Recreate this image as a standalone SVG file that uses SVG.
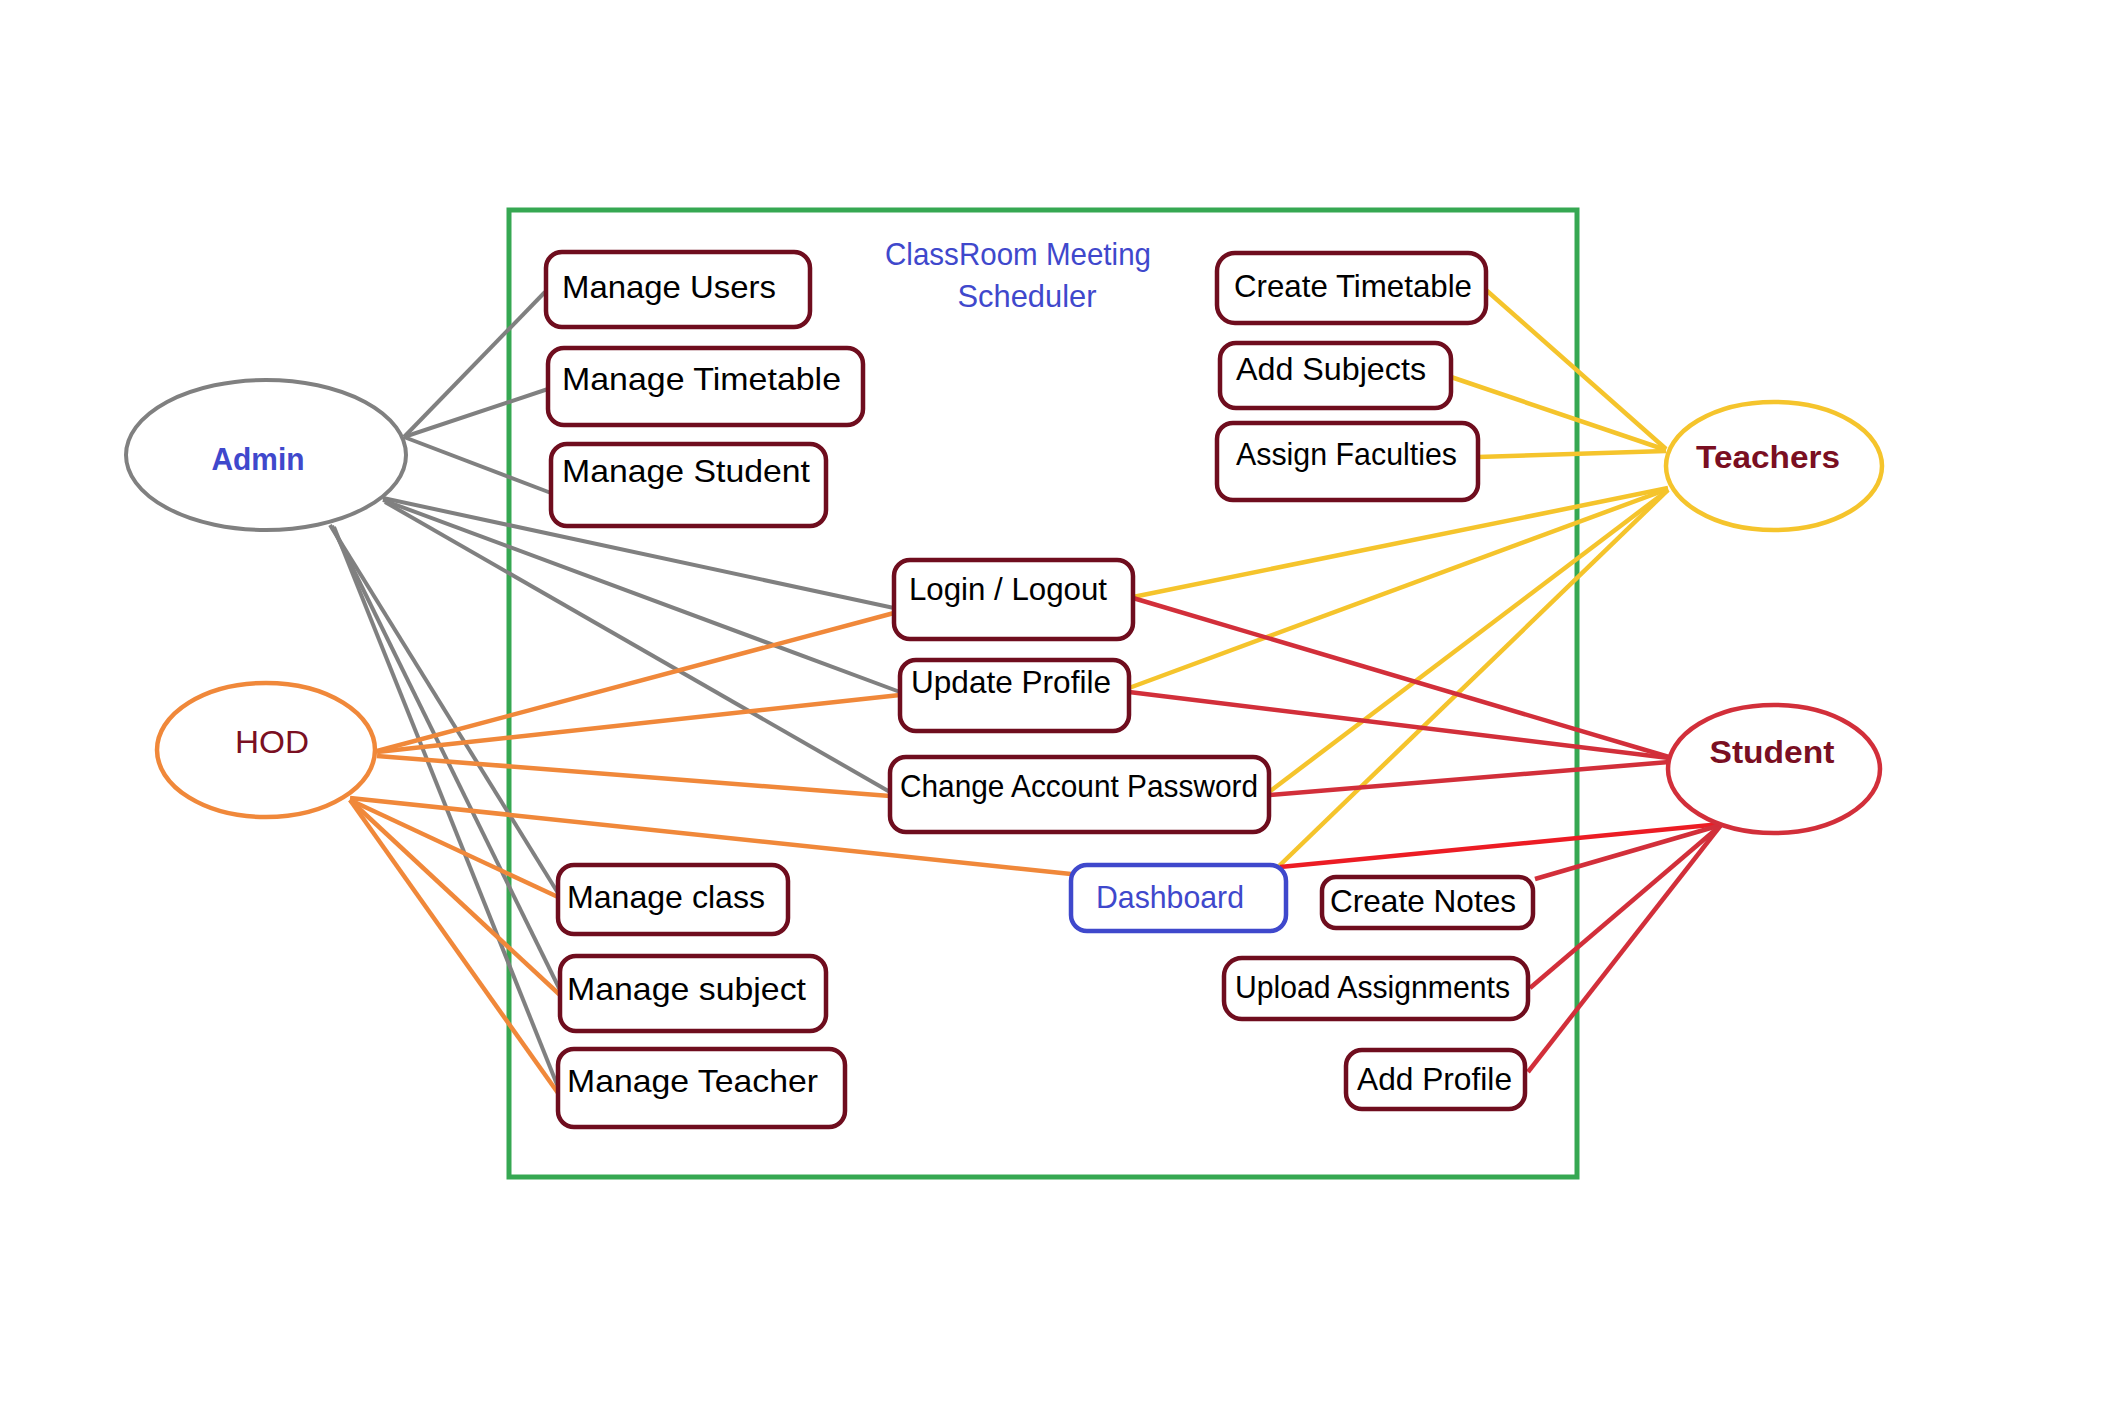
<svg xmlns="http://www.w3.org/2000/svg" width="2128" height="1416" viewBox="0 0 2128 1416">
<style>
.box{fill:#fff;stroke:#6f0d1e;stroke-width:4.5}
.dash{fill:#fff;stroke:#3f48cc;stroke-width:4.5}
.t{font-family:"Liberation Sans",Arial,sans-serif;font-size:32px;fill:#000}
.blue{fill:#3f48cc}
.actor{font-family:"Liberation Sans",Arial,sans-serif;font-size:32px;fill:#7a0f22;text-anchor:middle}
.g{stroke:#808080;stroke-width:4;fill:none}
.o{stroke:#f0883a;stroke-width:4.5;fill:none}
.y{stroke:#f5c42c;stroke-width:4.5;fill:none}
.r{stroke:#d22f3a;stroke-width:4.5;fill:none}
.rb{stroke:#ec1c24;stroke-width:4.5;fill:none}
</style>
<rect width="2128" height="1416" fill="#fff"/>
<rect id="system" x="509" y="210" width="1068" height="967" fill="none" stroke="#36a852" stroke-width="5"/>
<g id="title">
<text class="t blue" x="1018" y="265" font-size="30" text-anchor="middle" textLength="266" lengthAdjust="spacingAndGlyphs">ClassRoom Meeting</text>
<text class="t blue" x="1027" y="307" font-size="30" text-anchor="middle" textLength="139" lengthAdjust="spacingAndGlyphs">Scheduler</text>
</g>
<g id="connectors">
<line class="g" x1="404" y1="437" x2="545" y2="292"/>
<line class="g" x1="404" y1="437" x2="548" y2="389"/>
<line class="g" x1="404" y1="437" x2="551" y2="493"/>
<line class="g" x1="383" y1="498" x2="894" y2="608"/>
<line class="g" x1="383" y1="500" x2="900" y2="692"/>
<line class="g" x1="385" y1="502" x2="890" y2="792"/>
<line class="g" x1="330" y1="525" x2="558" y2="893"/>
<line class="g" x1="332" y1="526" x2="560" y2="990"/>
<line class="g" x1="334" y1="527" x2="558" y2="1087"/>
<line class="o" x1="377" y1="751" x2="894" y2="613"/>
<line class="o" x1="377" y1="752" x2="900" y2="695"/>
<line class="o" x1="377" y1="756" x2="890" y2="796"/>
<line class="o" x1="350" y1="798" x2="1071" y2="874"/>
<line class="o" x1="350" y1="800" x2="558" y2="897"/>
<line class="o" x1="350" y1="800" x2="560" y2="995"/>
<line class="o" x1="350" y1="800" x2="558" y2="1093"/>
<line class="y" x1="1666" y1="449" x2="1486" y2="290"/>
<line class="y" x1="1666" y1="450" x2="1451" y2="377"/>
<line class="y" x1="1666" y1="451" x2="1478" y2="457"/>
<line class="y" x1="1668" y1="488" x2="1133" y2="597"/>
<line class="y" x1="1668" y1="489" x2="1129" y2="688"/>
<line class="y" x1="1668" y1="490" x2="1269" y2="792"/>
<line class="y" x1="1668" y1="490" x2="1278" y2="867"/>
<line class="r" x1="1669" y1="757" x2="1133" y2="598"/>
<line class="r" x1="1669" y1="758" x2="1129" y2="692"/>
<line class="r" x1="1669" y1="762" x2="1269" y2="795"/>
<line class="rb" x1="1721" y1="824" x2="1280" y2="867"/>
<line class="r" x1="1721" y1="825" x2="1535" y2="879"/>
<line class="r" x1="1721" y1="825" x2="1530" y2="988"/>
<line class="r" x1="1721" y1="825" x2="1528" y2="1072"/>
</g>
<g id="admin">
<ellipse cx="266" cy="455" rx="140" ry="75" fill="#fff" stroke="#808080" stroke-width="4"/>
<text class="actor" x="258" y="470" font-weight="bold" fill="#3f48cc" style="fill:#3f48cc" textLength="93" lengthAdjust="spacingAndGlyphs">Admin</text>
</g>
<g id="hod">
<ellipse cx="266" cy="750" rx="109" ry="67" fill="#fff" stroke="#f0883a" stroke-width="4.5"/>
<text class="actor" x="272" y="753" textLength="74" lengthAdjust="spacingAndGlyphs">HOD</text>
</g>
<g id="teachers">
<ellipse cx="1774" cy="466" rx="108" ry="64" fill="#fff" stroke="#f5c42c" stroke-width="4.5"/>
<text class="actor" x="1768" y="468" font-weight="bold" textLength="144" lengthAdjust="spacingAndGlyphs">Teachers</text>
</g>
<g id="student">
<ellipse cx="1774" cy="769" rx="106" ry="64" fill="#fff" stroke="#d22f3a" stroke-width="4.5"/>
<text class="actor" x="1772" y="763" font-weight="bold" textLength="125" lengthAdjust="spacingAndGlyphs">Student</text>
</g>
<g id="manage-users">
<rect class="box" x="546" y="252" width="264" height="75" rx="16"/>
<text class="t" x="562" y="298" textLength="214" lengthAdjust="spacingAndGlyphs">Manage Users</text>
</g>
<g id="manage-timetable">
<rect class="box" x="548" y="348" width="315" height="77" rx="16"/>
<text class="t" x="562" y="390" textLength="279" lengthAdjust="spacingAndGlyphs">Manage Timetable</text>
</g>
<g id="manage-student">
<rect class="box" x="551" y="444" width="275" height="82" rx="16"/>
<text class="t" x="562" y="482" textLength="248" lengthAdjust="spacingAndGlyphs">Manage Student</text>
</g>
<g id="create-timetable">
<rect class="box" x="1217" y="253" width="269" height="70" rx="18"/>
<text class="t" x="1234" y="297" textLength="238" lengthAdjust="spacingAndGlyphs">Create Timetable</text>
</g>
<g id="add-subjects">
<rect class="box" x="1220" y="343" width="231" height="65" rx="16"/>
<text class="t" x="1236" y="380" textLength="190" lengthAdjust="spacingAndGlyphs">Add Subjects</text>
</g>
<g id="assign-faculties">
<rect class="box" x="1217" y="423" width="261" height="77" rx="16"/>
<text class="t" x="1236" y="465" textLength="221" lengthAdjust="spacingAndGlyphs">Assign Faculties</text>
</g>
<g id="login-logout">
<rect class="box" x="894" y="560" width="239" height="79" rx="16"/>
<text class="t" x="909" y="600" textLength="198" lengthAdjust="spacingAndGlyphs">Login / Logout</text>
</g>
<g id="update-profile">
<rect class="box" x="900" y="660" width="229" height="71" rx="16"/>
<text class="t" x="911" y="693" textLength="200" lengthAdjust="spacingAndGlyphs">Update Profile</text>
</g>
<g id="change-password">
<rect class="box" x="890" y="757" width="379" height="75" rx="16"/>
<text class="t" x="900" y="797" textLength="358" lengthAdjust="spacingAndGlyphs">Change Account Password</text>
</g>
<g id="dashboard">
<rect class="dash" x="1071" y="865" width="215" height="66" rx="16"/>
<text class="t blue" x="1096" y="908" font-size="30" textLength="148" lengthAdjust="spacingAndGlyphs">Dashboard</text>
</g>
<g id="create-notes">
<rect class="box" x="1322" y="877" width="211" height="51" rx="14"/>
<text class="t" x="1330" y="912" textLength="186" lengthAdjust="spacingAndGlyphs">Create Notes</text>
</g>
<g id="upload-assignments">
<rect class="box" x="1224" y="958" width="304" height="61" rx="18"/>
<text class="t" x="1235" y="998" textLength="275" lengthAdjust="spacingAndGlyphs">Upload Assignments</text>
</g>
<g id="add-profile">
<rect class="box" x="1346" y="1050" width="179" height="59" rx="16"/>
<text class="t" x="1357" y="1090" textLength="155" lengthAdjust="spacingAndGlyphs">Add Profile</text>
</g>
<g id="manage-class">
<rect class="box" x="558" y="865" width="230" height="69" rx="16"/>
<text class="t" x="567" y="908" textLength="198" lengthAdjust="spacingAndGlyphs">Manage class</text>
</g>
<g id="manage-subject">
<rect class="box" x="560" y="956" width="266" height="75" rx="16"/>
<text class="t" x="567" y="1000" textLength="239" lengthAdjust="spacingAndGlyphs">Manage subject</text>
</g>
<g id="manage-teacher">
<rect class="box" x="558" y="1049" width="287" height="78" rx="16"/>
<text class="t" x="567" y="1092" textLength="251" lengthAdjust="spacingAndGlyphs">Manage Teacher</text>
</g>
</svg>
